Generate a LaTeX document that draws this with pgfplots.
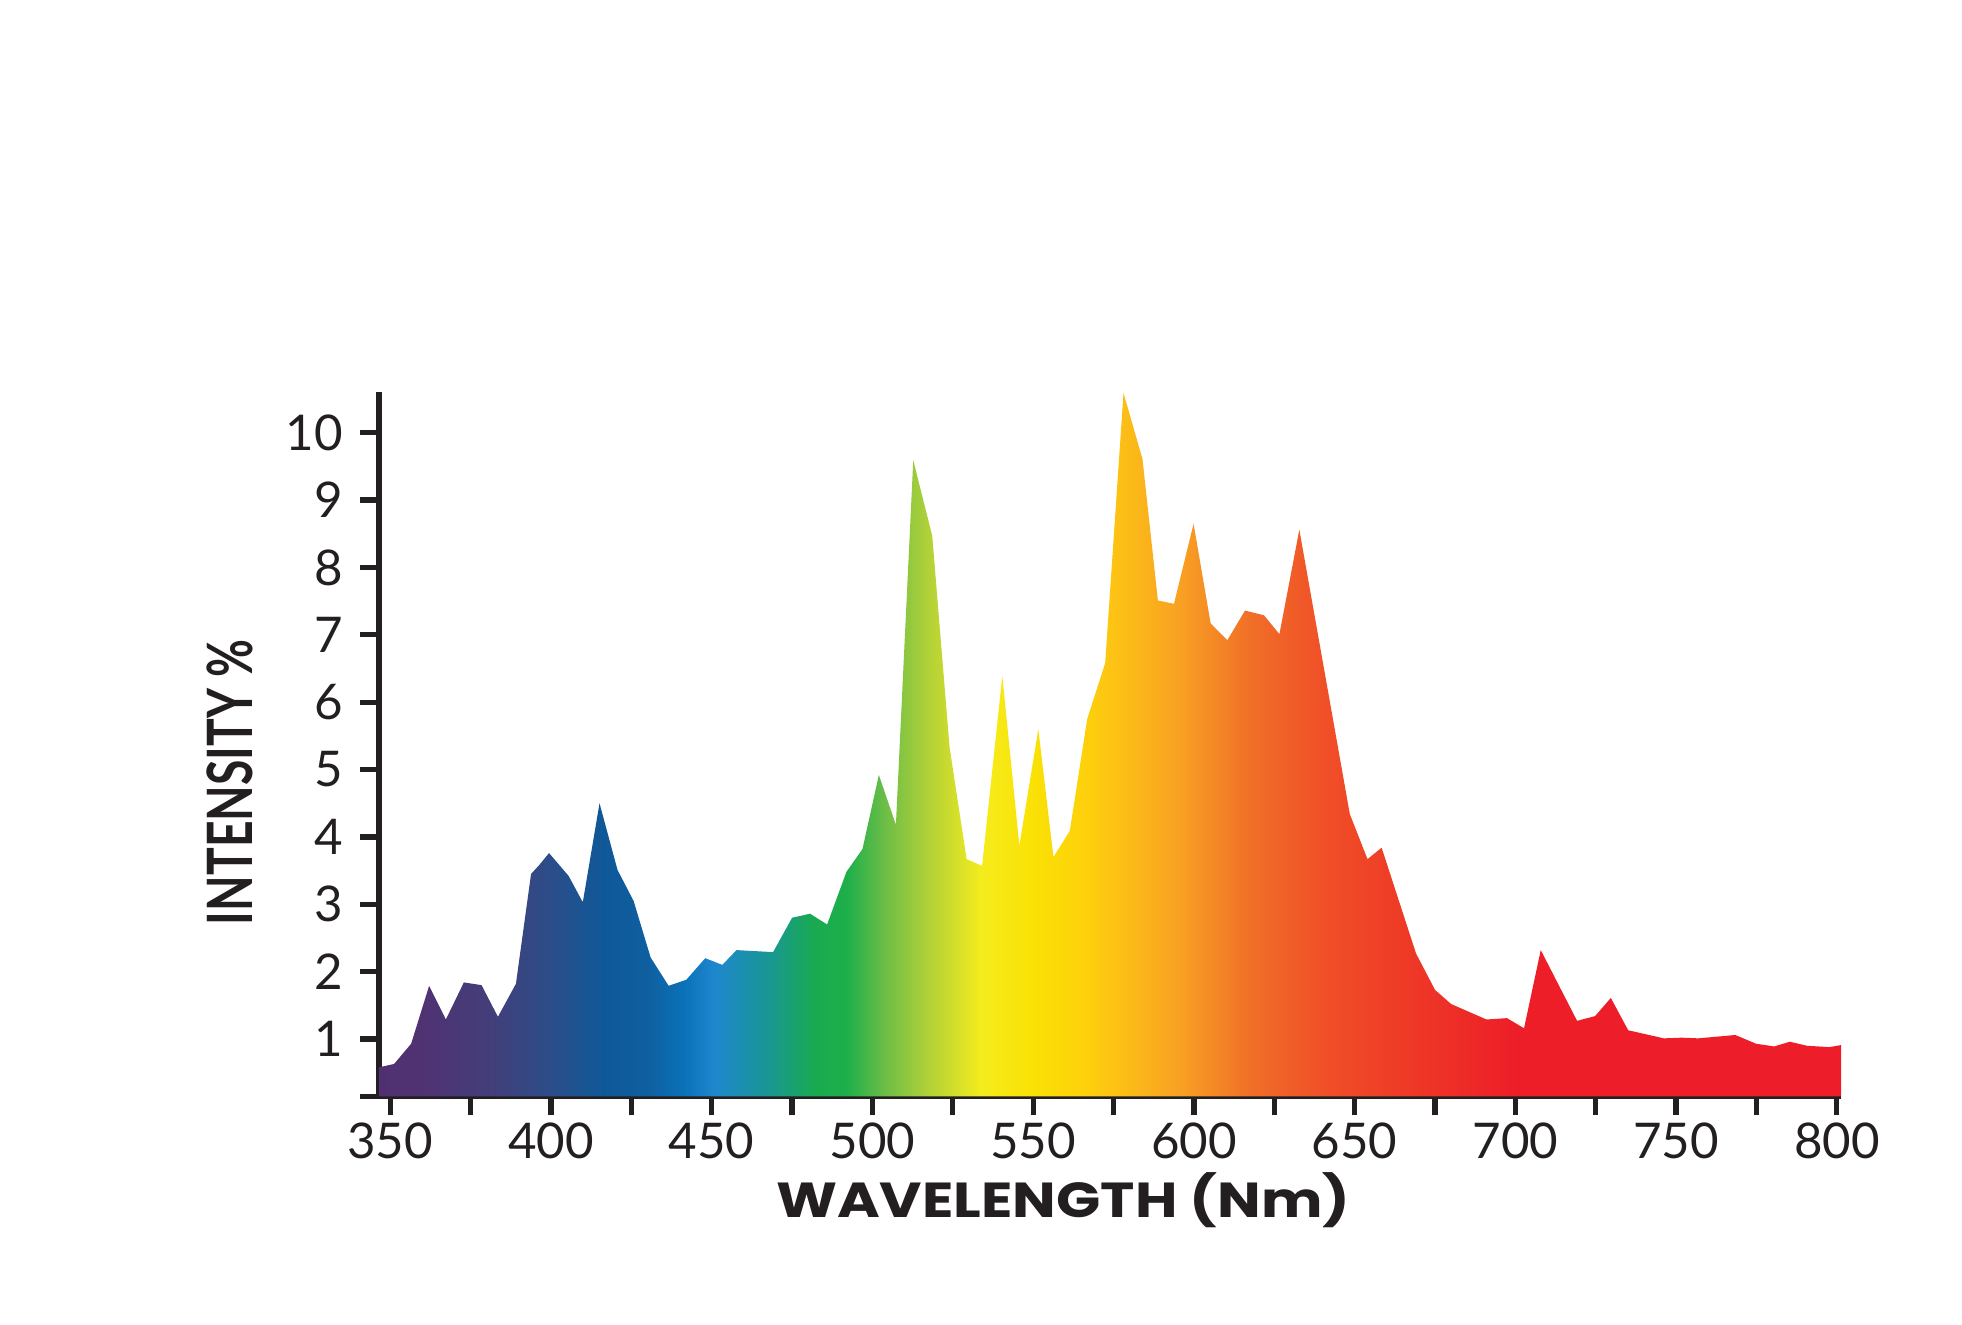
\documentclass[border=0pt]{standalone}
\usepackage{pgfplots}
\pgfplotsset{compat=1.18}
\usepackage{fontspec}
\setmainfont{Lato}
\newfontfamily\xlabfont[FakeStretch=1.18]{Poppins}
\newfontfamily\ylabfont[FakeStretch=0.74]{Lato}

\definecolor{ink}{HTML}{231F20}
% spectrum colours
\definecolor{s01}{RGB}{80,48,112}
\definecolor{s02}{RGB}{80,50,115}
\definecolor{s03}{RGB}{66,63,122}
\definecolor{s04}{RGB}{42,78,138}
\definecolor{s05}{RGB}{15,88,152}
\definecolor{s06}{RGB}{15,95,160}
\definecolor{s07}{RGB}{10,115,185}
\definecolor{s08}{RGB}{30,135,205}
\definecolor{s09}{RGB}{25,150,150}
\definecolor{s10}{RGB}{25,170,80}
\definecolor{s11}{RGB}{30,175,75}
\definecolor{s12}{RGB}{110,190,70}
\definecolor{s13}{RGB}{180,210,55}
\definecolor{s14}{RGB}{245,236,28}
\definecolor{s15}{RGB}{250,225,5}
\definecolor{s16}{RGB}{253,210,10}
\definecolor{s17}{RGB}{253,195,20}
\definecolor{s18}{RGB}{248,160,35}
\definecolor{s19}{RGB}{240,110,40}
\definecolor{s20}{RGB}{240,80,40}
\definecolor{s21}{RGB}{238,60,38}
\definecolor{s22}{RGB}{237,30,40}
\definecolor{s23}{RGB}{237,30,42}

% 25bp..75bp = 346.5..801.3 nm
\pgfdeclarehorizontalshading{spectrum}{100bp}{
  color(0bp)=(s01); color(25bp)=(s01); color(26.48bp)=(s02);
  color(28.90bp)=(s03); color(30.99bp)=(s04); color(32.64bp)=(s05);
  color(34.18bp)=(s06); color(35.50bp)=(s07); color(36.49bp)=(s08);
  color(38.25bp)=(s09); color(39.90bp)=(s10); color(41.00bp)=(s11);
  color(42.32bp)=(s12); color(43.86bp)=(s13); color(45.61bp)=(s14);
  color(47.37bp)=(s15); color(49.02bp)=(s16); color(50.12bp)=(s17);
  color(52.43bp)=(s18); color(54.85bp)=(s19); color(57.27bp)=(s20);
  color(59.80bp)=(s21); color(63.86bp)=(s22); color(75bp)=(s23);
  color(100bp)=(s23)}

\pgfplotstableread{
wl    int
346.5 0.58
351.2 0.63
356.5 0.93
362.1 1.79
367.3 1.29
372.9 1.84
378.4 1.80
383.5 1.33
389.1 1.82
393.8 3.45
396.3 3.58
399.4 3.76
405.5 3.42
409.9 3.03
415.1 4.50
420.7 3.51
425.7 3.05
431.0 2.21
436.6 1.79
442.1 1.88
448.0 2.20
453.3 2.10
457.7 2.32
469.1 2.29
475.0 2.80
480.6 2.86
485.9 2.70
491.9 3.48
496.9 3.82
502.0 4.92
507.3 4.18
512.7 9.59
518.6 8.47
524.0 5.33
529.3 3.67
534.1 3.57
540.4 6.39
545.7 3.87
551.6 5.60
556.3 3.70
561.4 4.09
566.8 5.75
572.4 6.58
578.1 10.59
584.0 9.61
588.8 7.51
593.8 7.46
599.9 8.65
605.2 7.17
610.4 6.92
615.9 7.36
621.8 7.29
626.6 7.01
632.8 8.56
648.5 4.34
654.0 3.67
658.4 3.84
669.1 2.27
675.0 1.73
680.0 1.52
691.0 1.29
697.4 1.31
702.7 1.16
707.9 2.32
719.2 1.27
724.8 1.34
729.7 1.61
735.1 1.13
746.2 1.01
751.7 1.02
756.9 1.01
768.4 1.06
774.9 0.93
780.5 0.89
785.4 0.96
790.7 0.90
797.7 0.88
801.3 0.91
}\spectrumdata

\begin{document}
\begin{tikzpicture}
\useasboundingbox (0,0) rectangle (19.62cm,13.25cm);
\begin{axis}[
    at={(3.79cm,2.287cm)}, anchor=south west,
    scale only axis,
    width=14.62cm, height=7.04cm,
    xmin=346.5, xmax=801.3,
    ymin=0.15, ymax=10.6,
    axis x line*=bottom, axis y line*=left,
    axis line style={-, ink, line width=1.8pt},
    tick align=outside,
    major tick length=1.9mm, minor tick length=1.9mm,
    every tick/.style={ink, line width=1.5pt},
    xtick={350,400,...,800},
    minor xtick={375,425,...,775},
    ytick={1,...,10},
    extra y ticks={0.15}, extra y tick labels={},
    tick label style={font=\fontsize{14}{16}\selectfont, text=ink},
    yticklabel style={xshift=-0.5mm},
    xticklabel style={yshift=0.5mm, /pgf/number format/1000 sep={}},
    /pgf/number format/assume math mode=true,
    xlabel={\xlabfont\bfseries WAVELENGTH (Nm)},
    xlabel style={at={(axis description cs:0.468,-0.147)}, anchor=center,
        font=\fontsize{14}{16}\selectfont, text=ink},
    ylabel={\ylabfont\bfseries INTENSITY \%},
    ylabel style={at={(axis description cs:-0.102,0.446)}, anchor=center,
        font=\fontsize{17.8}{20}\selectfont, text=ink},
]
\addplot[draw=none, shading=spectrum, shading angle=0, mark=none]
    table[x=wl, y=int] {\spectrumdata} \closedcycle;
\end{axis}
\end{tikzpicture}
\end{document}
